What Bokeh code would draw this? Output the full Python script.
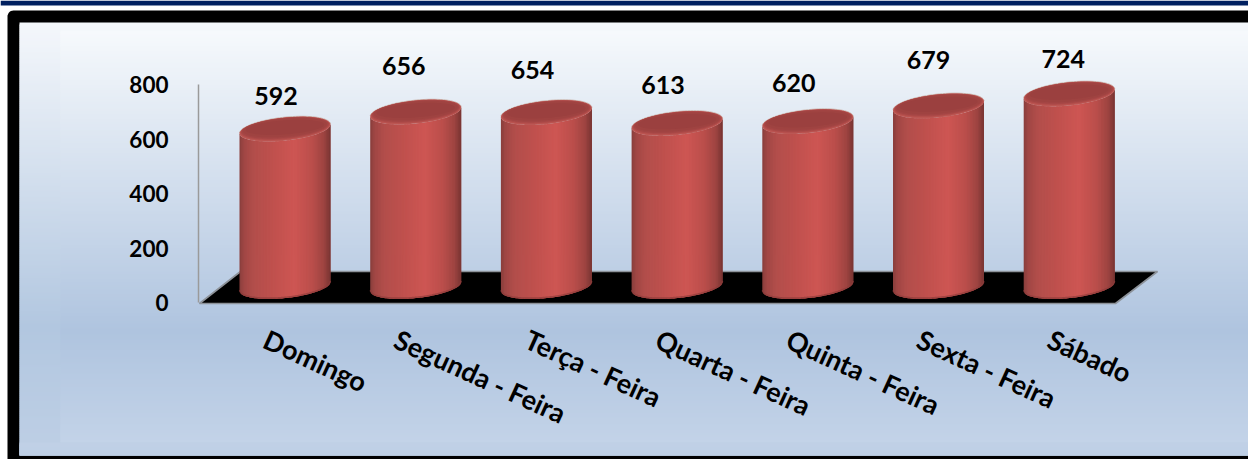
import numpy as np
from bokeh.core.properties import value
from bokeh.embed import file_html
from bokeh.models import ColumnDataSource, FixedTicker, LinearAxis, Range1d
from bokeh.plotting import figure
from bokeh.resources import INLINE

categories = ["Domingo", "Segunda - Feira", "Terça - Feira", "Quarta - Feira", "Quinta - Feira", "Sexta - Feira", "Sábado"]
values = [592, 656, 654, 613, 620, 679, 724]
y_ticks = [0, 200, 400, 600, 800]

# style / layout constants (pixels of the page)
W, H = 1248, 459
X0, DX = 284.5, 130.7       # first cylinder centre, spacing
Y0, DY = 302.0, 0.2725      # pixel of value 0, pixels per unit
FONT = "Lato"
label_dy = [-33, -46, -43, -38, -39, -46, -35]
label_dx = [-9, -12, -14, -14, -14, -10, -6]
HALF = 45.5
SHEAR = 0.10
MINOR = 11.6
BASE_PX = 286.0
VALUE_SCALE = 0.976

X = lambda px: (np.asarray(px, dtype=float) - X0) / DX
Y = lambda py: (Y0 - np.asarray(py, dtype=float)) / DY

p = figure(width=W, height=H, output_backend="svg", toolbar_location=None,
           x_range=Range1d(float(X(0)), float(X(W))), y_range=Range1d(float(Y(H)), float(Y(0))),
           min_border=0, x_axis_type=None, y_axis_type=None, outline_line_color=None,
           background_fill_color="white", border_fill_color="white")
p.xgrid.visible = False
p.ygrid.visible = False
p.styles = {"position": "absolute", "left": "0px", "top": "0px"}


def rect(x0, x1, y0, y1, color):
    p.quad(left=[float(X(x0))], right=[float(X(x1))], top=[float(Y(y0))], bottom=[float(Y(y1))],
           fill_color=color, line_color=None)


def hexc(c):
    return "#%02x%02x%02x" % tuple(int(round(v)) for v in c)


def ramp(v, stops):
    pos = [s[0] for s in stops]
    cols = np.array([s[1] for s in stops], dtype=float)
    return hexc([np.interp(v, pos, cols[:, k]) for k in range(3)])


# top band
rect(0, W, 0, 5, "#002060")

# black frame with rounded corner
t = np.linspace(np.pi, np.pi / 2, 8)
fx = np.r_[7 + 6 + 6 * np.cos(t), W, W, 7]
fy = np.r_[10 + 6 - 6 * np.sin(t), 10, H, H]
p.patch(X(fx), Y(fy), fill_color="black", line_color=None)


def panel(x0, x1, y0, y1, stops):
    # rows painted top to bottom, each overlapping the next, so no seams show
    ys = np.arange(y0, y1, 2.0)
    colors = [ramp(v, stops) for v in ys]
    p.quad(left=float(X(x0)), right=float(X(x1)), top=Y(ys), bottom=Y(np.minimum(ys + 4.0, y1)),
           fill_color=colors, line_color=None)


# background gradient (outer panel, then the slightly different inner panel)
panel(19, W, 22, 455, [(22, (244, 247, 251)), (325, (178, 199, 224)), (455, (190, 207, 229))])
panel(60, W, 30, 442, [(30, (246, 249, 252)), (330, (175, 196, 223)), (442, (195, 211, 232))])
panel(19, W, 442, 455, [(442, (192, 208, 230)), (455, (190, 207, 229))])

# floor
fl_x = [199, 240, 1157, 1115]
fl_y = [303, 271, 271, 303]
p.patch(X(fl_x), Y(fl_y), fill_color="black", line_color="#8d9299", line_width=1.6)

# axes
yax = LinearAxis(ticker=FixedTicker(ticks=y_ticks), fixed_location=float(X(198)), bounds=(0, 800))
yax.axis_line_color = "#9a9a9a"
yax.axis_line_width = 1.5
yax.major_tick_line_color = None
yax.minor_tick_line_color = None
yax.major_label_standoff = 24
yax.major_label_text_font = FONT
yax.major_label_text_font_style = "bold"
yax.major_label_text_font_size = "22.5px"
yax.major_label_text_color = "black"
p.add_layout(yax, "left")

# cylinders: overlapping vertical strips painted left to right
BODY = [(-1.0, (136, 62, 60)), (-0.9, (160, 70, 68)), (-0.7, (178, 78, 75)), (-0.3, (190, 80, 77)),
        (0.2, (206, 86, 83)), (0.6, (186, 78, 75)), (0.85, (158, 68, 65)), (1.0, (120, 52, 50))]
N = 60
us = np.linspace(-1, 1, N + 1)
xs_, ys_, cs_ = [], [], []
for i, v in enumerate(values):
    cx = X0 + DX * i
    top_py = BASE_PX - float(v) * VALUE_SCALE * DY
    for j in range(N):
        u0 = us[j]
        u1 = us[min(j + 2, N)]
        uu = np.linspace(u0, u1, 3)
        x_px = cx + HALF * uu
        sq = np.sqrt(np.clip(1 - uu ** 2, 0, 1))
        shear = SHEAR * HALF * uu
        low = BASE_PX - shear + MINOR * sq
        high = top_py - shear + MINOR * sq
        xs_.append(X(np.r_[x_px, x_px[::-1]]))
        ys_.append(Y(np.r_[high, low[::-1]]))
        cs_.append(ramp((us[j] + us[j + 1]) / 2, BODY))
p.patches(xs_, ys_, fill_color=cs_, line_color=None)

# darker edge along the bottom of each cylinder
uu = np.linspace(-1, 1, 60)
for i in range(len(values)):
    cx = X0 + DX * i
    bx = cx + HALF * uu
    by = BASE_PX - SHEAR * HALF * uu + MINOR * np.sqrt(1 - uu ** 2)
    p.line(X(bx), Y(by - 0.8), line_color="#8f3c3a", line_width=1.6, line_alpha=0.7)

# top faces: concentric rings from the light rim to the dark centre
theta = np.linspace(0, 2 * np.pi, 90)
RINGS = [(1.00, 0.0, "#bd5a56"), (0.985, 0.3, "#b9524f"), (0.97, 0.7, "#ad4a48"),
         (0.95, 1.1, "#a44544"), (0.92, 1.4, "#9f4341"), (0.86, 1.7, "#9b403f")]
for i, v in enumerate(values):
    cx = X0 + DX * i
    top_py = BASE_PX - float(v) * VALUE_SCALE * DY
    ex = HALF * np.cos(theta)
    ey = -SHEAR * HALF * np.cos(theta) - MINOR * np.sin(theta)
    # pale back edge of the cap
    back = theta <= np.pi
    p.line(X(cx + ex[back]), Y(top_py + ey[back] - 0.3), line_color="#c9b5ad", line_width=1.0)
    for k, dy, col in RINGS:
        minor = k - (1 - k) * 1.8
        p.patch(X(cx + ex * k), Y(top_py - dy + ey * minor), fill_color=col, line_color=None)

# value labels
lab = ColumnDataSource(dict(
    x=[i + d / DX for i, d in enumerate(label_dx)],
    y=[float(Y(BASE_PX - v * VALUE_SCALE * DY + d)) for v, d in zip(values, label_dy)],
    t=[str(v) for v in values]))
p.text("x", "y", text="t", source=lab, text_font=value(FONT), text_font_style="bold",
       text_font_size="25px", text_align="center", text_baseline="middle", text_color="black")

# category labels
cat = ColumnDataSource(dict(
    x=[i + (265 - X0) / DX for i in range(len(categories))],
    y=[float(Y(337))] * len(categories),
    t=categories))
p.text("x", "y", text="t", source=cat, angle=-0.43, text_font=value(FONT), text_font_style="bold",
       text_font_size="27px", text_align="left", text_baseline="middle", text_color="black")

open("out.html", "w").write(file_html(p, INLINE))
